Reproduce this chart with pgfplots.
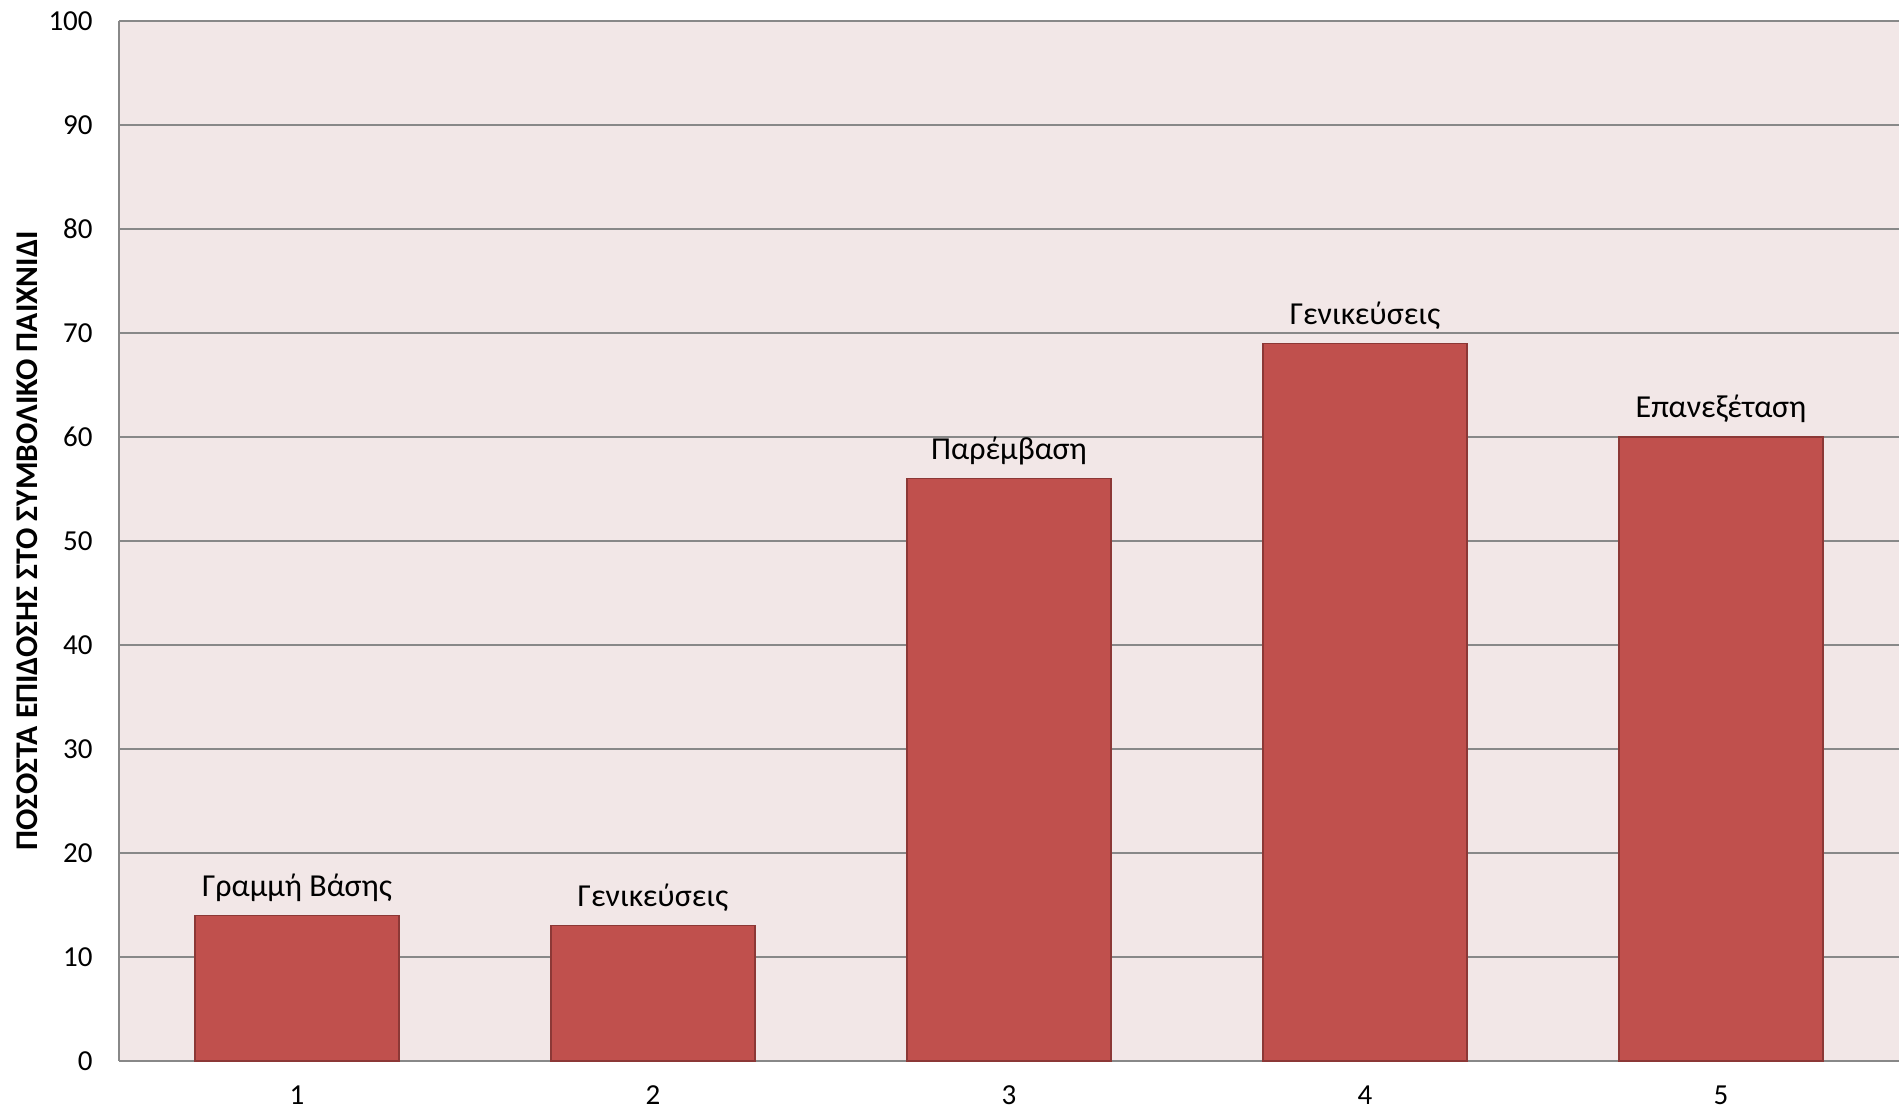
\documentclass[border=0pt]{standalone}
\usepackage{pgfplots}
\pgfplotsset{compat=1.18}
\usepackage{pgfplotstable}
\usepackage{fontspec}
\setmainfont{Carlito}

\definecolor{plotbg}{RGB}{242,231,231}
\definecolor{barfill}{RGB}{192,80,77}
\definecolor{baredge}{RGB}{140,56,54}
\definecolor{gridgray}{RGB}{136,136,136}

\pgfplotstableread{
x  y   phase
1  14  {Γραμμή Βάσης}
2  13  {Γενικεύσεις}
3  56  {Παρέμβαση}
4  69  {Γενικεύσεις}
5  60  {Επανεξέταση}
}\phases

\begin{document}
\begin{tikzpicture}
\begin{axis}[
  scale only axis,
  width=890pt, height=520pt,
  xmin=0.5, xmax=5.5,
  ymin=0, ymax=100,
  axis background/.style={fill=plotbg},
  axis x line*=bottom,
  axis y line*=left,
  axis line style={gridgray, line width=0.75pt},
  xtick={1,2,3,4,5},
  ytick={0,10,...,100},
  major tick length=0pt,
  ymajorgrids,
  grid style={gridgray, line width=0.75pt},
  tick label style={font=\fontsize{14.5}{17}\selectfont, black, inner sep=0pt},
  /pgf/number format/assume math mode=true,
  xticklabel style={anchor=center, yshift=-17pt},
  yticklabel style={anchor=east, xshift=-13pt},
  ylabel={\bfseries ΠΟΣΟΣΤΑ ΕΠΙΔΟΣΗΣ ΣΤΟ ΣΥΜΒΟΛΙΚΟ ΠΑΙΧΝΙΔΙ},
  ylabel style={font=\fontsize{15.8}{18}\selectfont, at={(rel axis cs:0,0.5)},
                anchor=center, yshift=46pt, inner sep=0pt},
  ybar,
  bar width=102pt,
  nodes near coords,
  point meta=explicit symbolic,
  every node near coord/.append style={font=\fontsize{16}{19}\selectfont, black,
                anchor=base, inner sep=0pt, yshift=9.5pt},
  clip=false,
]
\addplot[fill=barfill, draw=baredge, line width=0.6pt] table[x=x, y=y, meta=phase] {\phases};
\end{axis}
\pgfresetboundingbox
\useasboundingbox ([xshift=-59.5pt, yshift=-25pt]current axis.south west)
  rectangle ([xshift=2.5pt, yshift=10.5pt]current axis.north east);
\end{tikzpicture}
\end{document}
